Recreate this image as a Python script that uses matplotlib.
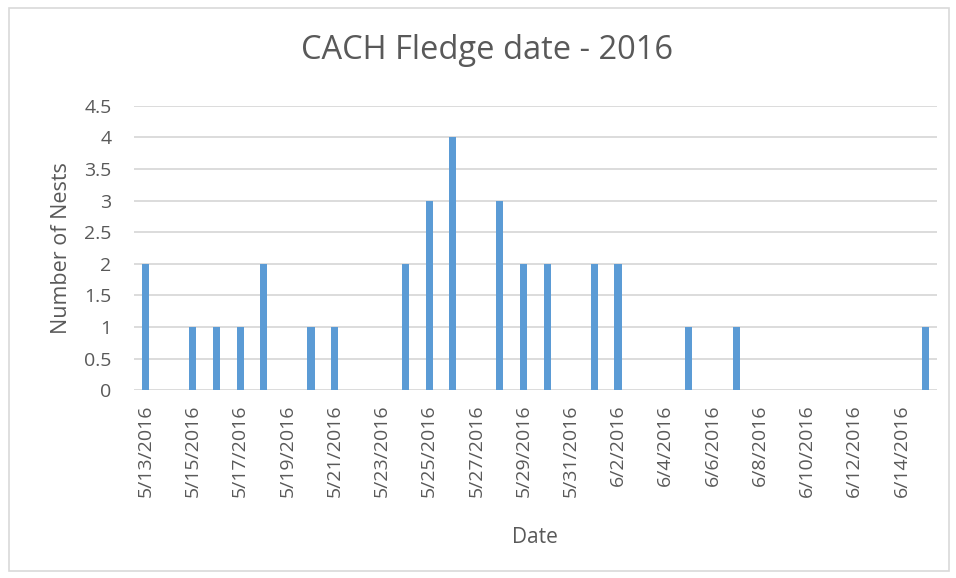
import datetime as dt
import matplotlib
matplotlib.use("Agg")
import matplotlib.pyplot as plt
from matplotlib.patches import Rectangle

# Fledge dates and number of nests on each
fledge_dates = ["2016-05-13", "2016-05-15", "2016-05-16", "2016-05-17", "2016-05-18",
                "2016-05-20", "2016-05-21", "2016-05-24", "2016-05-25", "2016-05-26",
                "2016-05-28", "2016-05-29", "2016-05-30", "2016-06-01", "2016-06-02",
                "2016-06-05", "2016-06-07", "2016-06-15"]
nests = [2, 1, 1, 1, 2, 1, 1, 2, 3, 4, 3, 2, 2, 2, 2, 1, 1, 1]

axis_start = "2016-05-13"
axis_end = "2016-06-15"
y_ticks = [0, 0.5, 1, 1.5, 2, 2.5, 3, 3.5, 4, 4.5]

text_col = "#595959"
grid_col = "#d9d9d9"
bar_col = "#5b9bd5"

plt.rcParams['font.family'] = ['Open Sans', 'DejaVu Sans']

dates = [dt.datetime.strptime(d, "%Y-%m-%d") for d in fledge_dates]
start = dt.datetime.strptime(axis_start, "%Y-%m-%d")
end = dt.datetime.strptime(axis_end, "%Y-%m-%d")

fig = plt.figure(figsize=(9.56, 5.78), dpi=100)
ax = fig.add_axes([0.140, 0.325, 0.840, 0.492])

ax.bar(dates, nests, width=0.3, color=bar_col, zorder=3)

half = dt.timedelta(hours=12)
ax.set_xlim(start - half, end + half)
ax.set_ylim(0, 4.5)

# every other day gets a label, like the Excel date axis
tick_dates = []
d = start
while d <= end:
    tick_dates.append(d)
    d += dt.timedelta(days=2)
ax.set_xticks(tick_dates)
ax.set_xticklabels([f"{t.month}/{t.day}/{t.year}" for t in tick_dates],
                   rotation=90, fontsize=14, color=text_col)
ax.set_yticks(y_ticks)
ax.set_yticklabels([f"{v:g}" for v in y_ticks], fontsize=14, color=text_col)
ax.tick_params(axis='x', length=0, pad=10)
ax.tick_params(axis='y', length=0, pad=16)

ax.grid(axis='y', color=grid_col, linewidth=1.3, zorder=0)
for s in ax.spines.values():
    s.set_visible(False)

ax.set_xlabel("Date", fontsize=15, color=text_col, labelpad=22)
ax.set_ylabel("Number of Nests", fontsize=15.5, color=text_col, labelpad=9)
fig.text(0.51, 0.912, "CACH Fledge date - 2016", ha='center', va='center',
         fontsize=23.5, color=text_col)

fig.patches.append(Rectangle((0.009, 0.012), 0.984, 0.975, transform=fig.transFigure,
                             fill=False, edgecolor=grid_col, linewidth=1.2))

fig.savefig("out.png", dpi=100)
